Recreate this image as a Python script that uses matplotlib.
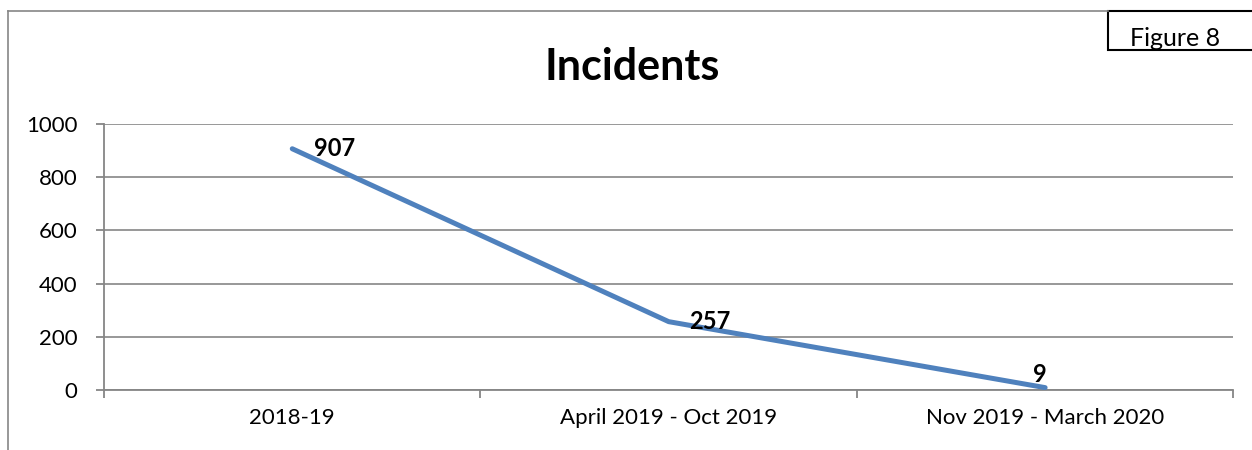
import matplotlib.pyplot as plt
from matplotlib.patches import Rectangle
from matplotlib.lines import Line2D

plt.rcParams['font.family'] = ['Lato', 'DejaVu Sans']

# data
periods = ['2018-19', 'April 2019 - Oct 2019', 'Nov 2019 - March 2020']
incidents = [907, 257, 9]
yticks = [0, 200, 400, 600, 800, 1000]

fig = plt.figure(figsize=(12.52, 4.5), dpi=100)
ax = fig.add_axes([0.0831, 0.1333, 0.902, 0.5911])

grid_c = '#868686'
x = range(len(periods))
ax.plot(x, incidents, color='#4F81BD', linewidth=3.6, solid_capstyle='round', zorder=3)

# data labels (Excel-style placement)
offsets = [(16, 0, 'left', 'center'), (15, 0, 'left', 'center'), (-4, 1, 'center', 'bottom')]
for i, v in enumerate(incidents):
    dx, dy, ha, va = offsets[i]
    ax.annotate(str(v), (i, v), xytext=(dx, dy), textcoords='offset points',
                ha=ha, va=va, fontsize=17, fontweight='bold', zorder=4)

ax.set_xlim(-0.5, len(periods) - 0.5)
ax.set_ylim(0, 1000)
ax.set_yticks(yticks)
ax.set_xticks(x)
ax.set_xticklabels(periods)
ax.set_xticks([-0.5, 0.5, 1.5, 2.5], minor=True)
ax.tick_params(axis='x', which='major', length=0, pad=13, labelsize=16)
ax.tick_params(axis='x', which='minor', length=6, width=1.3, color=grid_c, direction='out')
ax.tick_params(axis='y', length=6, width=1.3, color=grid_c, pad=13, labelsize=16)
ax.yaxis.grid(True, color=grid_c, linewidth=1.2)
ax.set_axisbelow(True)
for s in ['top', 'right']:
    ax.spines[s].set_visible(False)
for s in ['left', 'bottom']:
    ax.spines[s].set_color(grid_c)
    ax.spines[s].set_linewidth(1.3)

fig.text(0.505, 0.85, 'Incidents', ha='center', va='center', fontsize=31, fontweight='bold')

# outer chart border
fig.add_artist(Line2D([8 / 1252, 8 / 1252], [0, 1 - 11 / 450], color=grid_c, linewidth=1.2))
fig.add_artist(Line2D([8 / 1252, 1108 / 1252], [1 - 11 / 450, 1 - 11 / 450], color=grid_c, linewidth=1.2))

# "Figure 8" box
fig.add_artist(Rectangle((1108 / 1252, 1 - 50 / 450), 0.2, 39 / 450, transform=fig.transFigure,
                         facecolor='white', edgecolor='black', linewidth=1.5))
fig.text(1175 / 1252, 1 - 38 / 450, 'Figure 8', ha='center', va='center', fontsize=18)

fig.savefig('out.png', dpi=100)
